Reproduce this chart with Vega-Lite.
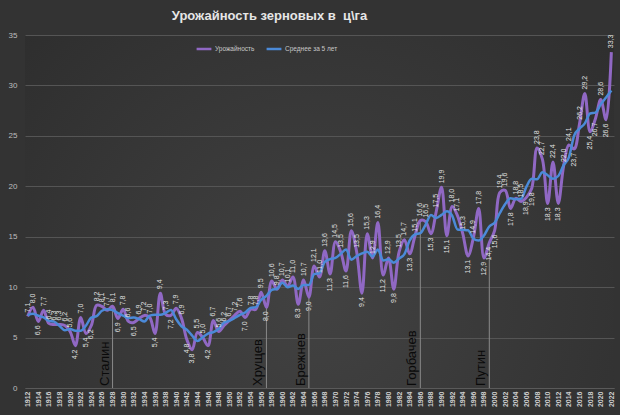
{
"$schema": "https://vega.github.io/schema/vega-lite/v6.json",
"width": 589,
"height": 353,
"autosize": {"type": "none"},
"padding": {"left": 25, "top": 35, "right": 6, "bottom": 27},
"background": "#333333",
"title": {"text": "Урожайность зерновых в \u00a0ц\\га", "fontSize": 13, "fontWeight": "bold", "color": "#e6e6e6", "font": "Liberation Sans", "offset": 8, "dx": -50, "anchor": "middle", "frame": "group"},
"datasets": {
"yield": [
{"year":1912,"value":7.1,"avg":7.23},{"year":1913,"value":8.0,"avg":7.35},{"year":1914,"value":6.6,"avg":7.16},{"year":1915,"value":7.7,"avg":7.0},{"year":1916,"value":6.4,"avg":6.66},{"year":1917,"value":6.3,"avg":6.58},{"year":1918,"value":6.3,"avg":6.16},{"year":1919,"value":6.2,"avg":5.72},{"year":1920,"value":5.6,"avg":5.86},{"year":1921,"value":4.2,"avg":5.68},
{"year":1922,"value":7.0,"avg":5.68},{"year":1923,"value":5.4,"avg":6.2},{"year":1924,"value":6.2,"avg":6.98},{"year":1925,"value":8.2,"avg":7.12},{"year":1926,"value":8.1,"avg":7.66},{"year":1927,"value":7.7,"avg":7.8},{"year":1928,"value":8.1,"avg":7.72},{"year":1929,"value":6.9,"avg":7.42},{"year":1930,"value":7.8,"avg":7.18},{"year":1931,"value":6.6,"avg":6.94},
{"year":1932,"value":6.5,"avg":7.0},{"year":1933,"value":6.9,"avg":6.84},{"year":1934,"value":7.2,"avg":6.6},{"year":1935,"value":7.0,"avg":7.18},{"year":1936,"value":5.4,"avg":7.26},{"year":1937,"value":9.4,"avg":7.26},{"year":1938,"value":7.3,"avg":7.44},{"year":1939,"value":7.2,"avg":7.74},{"year":1940,"value":7.9,"avg":6.82},{"year":1941,"value":6.9,"avg":6.12},
{"year":1942,"value":4.8,"avg":5.78},{"year":1943,"value":3.8,"avg":5.2},{"year":1944,"value":5.5,"avg":4.66},{"year":1945,"value":5.0,"avg":5.04},{"year":1946,"value":4.2,"avg":5.4},{"year":1947,"value":6.7,"avg":5.54},{"year":1948,"value":5.6,"avg":5.88},{"year":1949,"value":6.2,"avg":6.48},{"year":1950,"value":6.7,"avg":6.66},{"year":1951,"value":7.2,"avg":6.94},
{"year":1952,"value":7.6,"avg":7.26},{"year":1953,"value":7.0,"avg":7.48},{"year":1954,"value":7.8,"avg":7.94},{"year":1955,"value":7.8,"avg":8.02},{"year":1956,"value":9.5,"avg":8.74},{"year":1957,"value":8.0,"avg":9.14},{"year":1958,"value":10.6,"avg":9.72},{"year":1959,"value":9.8,"avg":9.84},{"year":1960,"value":10.7,"avg":10.44},{"year":1961,"value":10.1,"avg":9.98},
{"year":1962,"value":11.0,"avg":10.16},{"year":1963,"value":8.3,"avg":9.82},{"year":1964,"value":10.7,"avg":10.22},{"year":1965,"value":9.0,"avg":10.22},{"year":1966,"value":12.1,"avg":11.28},{"year":1967,"value":11.0,"avg":11.4},{"year":1968,"value":13.6,"avg":12.5},{"year":1969,"value":11.3,"avg":12.78},{"year":1970,"value":14.5,"avg":12.9},{"year":1971,"value":13.5,"avg":13.3},
{"year":1972,"value":11.6,"avg":13.74},{"year":1973,"value":15.6,"avg":12.72},{"year":1974,"value":13.5,"avg":13.08},{"year":1975,"value":9.4,"avg":13.34},{"year":1976,"value":15.3,"avg":13.5},{"year":1977,"value":12.9,"avg":13.04},{"year":1978,"value":16.4,"avg":13.74},{"year":1979,"value":11.2,"avg":12.64},{"year":1980,"value":12.9,"avg":12.76},{"year":1981,"value":9.8,"avg":12.42},
{"year":1982,"value":13.5,"avg":12.84},{"year":1983,"value":14.7,"avg":13.28},{"year":1984,"value":13.3,"avg":14.64},{"year":1985,"value":15.1,"avg":15.24},{"year":1986,"value":16.6,"avg":15.36},{"year":1987,"value":16.5,"avg":16.2},{"year":1988,"value":15.3,"avg":17.16},{"year":1989,"value":17.5,"avg":16.86},{"year":1990,"value":19.9,"avg":17.16},{"year":1991,"value":15.1,"avg":17.52},
{"year":1992,"value":18.0,"avg":17.08},{"year":1993,"value":17.1,"avg":15.72},{"year":1994,"value":15.3,"avg":15.68},{"year":1995,"value":13.1,"avg":15.64},{"year":1996,"value":14.9,"avg":14.8},{"year":1997,"value":17.8,"avg":14.62},{"year":1998,"value":12.9,"avg":15.12},{"year":1999,"value":14.4,"avg":16.02},{"year":2000,"value":15.6,"avg":16.38},{"year":2001,"value":19.4,"avg":17.36},
{"year":2002,"value":19.6,"avg":18.24},{"year":2003,"value":17.8,"avg":18.82},{"year":2004,"value":18.8,"avg":18.72},{"year":2005,"value":18.5,"avg":18.76},{"year":2006,"value":18.9,"avg":19.96},{"year":2007,"value":19.8,"avg":20.74},{"year":2008,"value":23.8,"avg":20.7},{"year":2009,"value":22.7,"avg":21.4},{"year":2010,"value":18.3,"avg":21.1},{"year":2011,"value":22.4,"avg":20.74},
{"year":2012,"value":18.3,"avg":21.02},{"year":2013,"value":22.0,"avg":22.1},{"year":2014,"value":24.1,"avg":22.86},{"year":2015,"value":23.7,"avg":25.04},{"year":2016,"value":26.2,"avg":25.72},{"year":2017,"value":29.2,"avg":26.24},{"year":2018,"value":25.4,"avg":27.22},{"year":2019,"value":26.7,"avg":27.3},{"year":2020,"value":28.6,"avg":28.12},{"year":2021,"value":26.6,"avg":28.8},
{"year":2022,"value":33.3,"avg":29.5}
],
"leaders": [
{"year":1928,"name":"Сталин","value":8.1},
{"year":1957,"name":"Хрущев","value":8.0},
{"year":1965,"name":"Брежнев","value":9.0},
{"year":1986,"name":"Горбачев","value":16.6},
{"year":1999,"name":"Путин","value":14.4}
]
},
"config": {
"locale": {"number": {"decimal": ",", "thousands": "", "grouping": [3], "currency": ["", ""]}},
"view": {"stroke": null, "fill": {"gradient": "radial", "x1": 0.5, "y1": 0.65, "r1": 0, "x2": 0.5, "y2": 0.65, "r2": 0.75, "stops": [{"offset": 0, "color": "#424242"}, {"offset": 1, "color": "#2c2c2c"}]}},
"font": "Liberation Sans"
},
"layer": [
{
"data": {"name": "leaders"},
"mark": {"type": "rule", "color": "#8a8a8a", "strokeWidth": 1},
"encoding": {
"x": {"field": "year", "type": "ordinal", "sort": "ascending", "scale": {"type": "point", "padding": 0.5},
 "axis": {"title": null, "values": [1912,1914,1916,1918,1920,1922,1924,1926,1928,1930,1932,1934,1936,1938,1940,1942,1944,1946,1948,1950,1952,1954,1956,1958,1960,1962,1964,1966,1968,1970,1972,1974,1976,1978,1980,1982,1984,1986,1988,1990,1992,1994,1996,1998,2000,2002,2004,2006,2008,2010,2012,2014,2016,2018,2020,2022], "labelAngle": -90, "labelAlign": "right", "labelBaseline": "middle", "labelFontSize": 7, "labelFontWeight": "bold", "labelColor": "#cfcfcf", "ticks": false, "labelPadding": 3, "domainColor": "#5a5a5a", "grid": false, "labelOverlap": false}},
"y": {"field": "value", "type": "quantitative", "scale": {"domain": [0, 35], "nice": false},
 "axis": {"title": null, "values": [0,5,10,15,20,25,30,35], "labelFontSize": 8, "labelColor": "#bdbdbd", "ticks": false, "domain": false, "gridColor": "#555555", "gridWidth": 1, "labelPadding": 8}},
"y2": {"datum": 0}
}
},
{
"data": {"name": "leaders"},
"mark": {"type": "text", "angle": 270, "align": "left", "baseline": "bottom", "dx": 2, "dy": -1, "fontSize": 13, "color": "#0a0a0a", "font": "Liberation Sans"},
"encoding": {
"x": {"field": "year", "type": "ordinal", "sort": "ascending"},
"y": {"datum": 0, "type": "quantitative"},
"text": {"field": "name", "type": "nominal"}
}
},
{
"data": {"name": "yield"},
"mark": {"type": "line", "interpolate": "catmull-rom", "strokeWidth": 3},
"encoding": {
"x": {"field": "year", "type": "ordinal", "sort": "ascending"},
"y": {"field": "value", "type": "quantitative"},
"color": {"datum": "Урожайность", "type": "nominal", "scale": {"domain": ["Урожайность", "Среднее за 5 лет"], "range": ["#9068c4", "#4b8ad8"]},
 "legend": {"title": null, "orient": "none", "legendX": 170, "legendY": 5, "direction": "horizontal", "symbolType": "stroke", "symbolStrokeWidth": 2.5, "symbolSize": 220, "labelColor": "#c8c8c8", "labelFontSize": 6.5, "columnPadding": 6, "labelOffset": 2}}
}
},
{
"data": {"name": "yield"},
"mark": {"type": "line", "interpolate": "monotone", "strokeWidth": 2.5},
"encoding": {
"x": {"field": "year", "type": "ordinal", "sort": "ascending"},
"y": {"field": "avg", "type": "quantitative"},
"color": {"datum": "Среднее за 5 лет", "type": "nominal"}
}
},
{
"data": {"name": "yield"},
"transform": [{"filter": "datum.value >= datum.avg - 0.4"}],
"mark": {"type": "text", "angle": 270, "align": "left", "baseline": "middle", "dx": 4, "fontSize": 7, "color": "#e0e0e0"},
"encoding": {
"x": {"field": "year", "type": "ordinal", "sort": "ascending"},
"y": {"field": "value", "type": "quantitative"},
"text": {"field": "value", "type": "quantitative", "format": ".1f"}
}
},
{
"data": {"name": "yield"},
"transform": [{"filter": "datum.value < datum.avg - 0.4"}],
"mark": {"type": "text", "angle": 270, "align": "right", "baseline": "middle", "dx": -4, "fontSize": 7, "color": "#e0e0e0"},
"encoding": {
"x": {"field": "year", "type": "ordinal", "sort": "ascending"},
"y": {"field": "value", "type": "quantitative"},
"text": {"field": "value", "type": "quantitative", "format": ".1f"}
}
}
]
}
